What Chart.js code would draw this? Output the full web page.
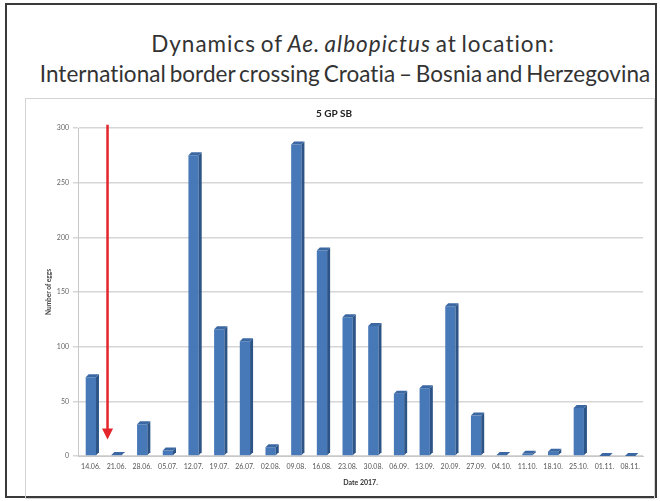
<!DOCTYPE html>
<html>
<head>
<meta charset="utf-8">
<title>Dynamics of Ae. albopictus</title>
<script src="https://cdn.jsdelivr.net/npm/chart.js@4.4.1/dist/chart.umd.min.js"></script>
<style>
  body { margin: 0; background: #fff; width: 660px; height: 501px; position: relative; overflow: hidden; font-family: Lato, "Open Sans", sans-serif; }
  #frame { position: absolute; left: 5px; top: 3px; width: 652px; height: 495px; border: 2px solid #3a3a3a; box-sizing: border-box; }
  #title { position: absolute; left: 25px; width: 640px; top: 29px; text-align: center; font-size: 22.5px; line-height: 30px; color: #333; word-spacing: -2px; }
  #title .l1 { letter-spacing: 1px; padding-left: 16px; }
  #title .l2 { letter-spacing: 0.05px; }
  #inner { position: absolute; left: 25px; top: 98px; width: 630px; height: 401px; border: 1px solid #d4d4d4; box-sizing: border-box; }
  #wrap { position: absolute; left: 25px; top: 98px; width: 630px; height: 401px; }
</style>
</head>
<body>
<div id="frame"></div>
<div id="title"><div class="l1">Dynamics of <i>Ae. albopictus</i> at location:</div><div class="l2">International border crossing Croatia – Bosnia and Herzegovina</div></div>
<div id="inner"></div>
<div id="wrap"><canvas id="eggChart" width="630" height="401"></canvas></div>
<script>
// sampling dates (2017) and egg counts per ovitrap check
const dates = ['14.06.', '21.06.', '28.06.', '05.07.', '12.07.', '19.07.', '26.07.', '02.08.',
  '09.08.', '16.08.', '23.08.', '30.08.', '06.09.', '13.09.', '20.09.', '27.09.',
  '04.10.', '11.10.', '18.10.', '25.10.', '01.11.', '08.11.'];
const eggs = [72, 1, 29, 5, 275, 116, 105, 8, 285, 188, 127, 119, 57, 62, 137, 37, 1, 2, 4, 44, 0, 0];
const yMax = 300;
const yStep = 50;

// red arrow marking the start of the control measure (between 14.06. and 21.06.)
const arrowAt = 0.65;
const arrowFrom = 303;
const arrowTo = 15;

// fake 3D: dark side face and top face on each bar
const depth = 3;
const bar3d = {
  id: 'bar3d',
  afterDatasetsDraw(chart) {
    const ctx = chart.ctx;
    chart.getDatasetMeta(0).data.forEach(bar => {
      const half = bar.width / 2;
      const l = bar.x - half, r = bar.x + half;
      ctx.save();
      ctx.fillStyle = '#2c5486';
      ctx.beginPath();
      ctx.moveTo(r, bar.y);
      ctx.lineTo(r + depth, bar.y - depth);
      ctx.lineTo(r + depth, bar.base - depth);
      ctx.lineTo(r, bar.base);
      ctx.closePath();
      ctx.fill();
      ctx.fillStyle = '#3b67a2';
      ctx.beginPath();
      ctx.moveTo(l, bar.y);
      ctx.lineTo(l + depth, bar.y - depth);
      ctx.lineTo(r + depth, bar.y - depth);
      ctx.lineTo(r, bar.y);
      ctx.closePath();
      ctx.fill();
      ctx.restore();
    });
  }
};

const redArrow = {
  id: 'redArrow',
  afterDatasetsDraw(chart) {
    const ctx = chart.ctx;
    const x = chart.scales.x.getPixelForValue(arrowAt);
    const y0 = chart.scales.y.getPixelForValue(arrowFrom);
    const y1 = chart.scales.y.getPixelForValue(arrowTo);
    ctx.save();
    ctx.strokeStyle = '#e4252b';
    ctx.fillStyle = '#e4252b';
    ctx.lineWidth = 2.5;
    ctx.beginPath();
    ctx.moveTo(x, y0);
    ctx.lineTo(x, y1 - 8);
    ctx.stroke();
    ctx.beginPath();
    ctx.moveTo(x - 5.5, y1 - 11);
    ctx.lineTo(x + 5.5, y1 - 11);
    ctx.lineTo(x, y1);
    ctx.closePath();
    ctx.fill();
    ctx.restore();
  }
};

const ctx = document.getElementById('eggChart').getContext('2d');
new Chart(ctx, {
  type: 'bar',
  data: {
    labels: dates,
    datasets: [{
      data: eggs,
      backgroundColor: '#4778b8',
      borderWidth: 0,
      categoryPercentage: 1,
      barPercentage: 0.4
    }]
  },
  options: {
    responsive: false,
    animation: false,
    layout: { padding: { right: 12 } },
    plugins: {
      legend: { display: false },
      tooltip: { enabled: false },
      title: {
        display: true,
        text: '5 GP SB',
        color: '#222',
        font: { family: 'Lato', size: 10, weight: 'bold' },
        padding: { top: 10, bottom: 8 }
      }
    },
    scales: {
      x: {
        grid: { display: false, drawTicks: false },
        border: { display: true, color: '#c8c8c8', width: 1 },
        ticks: {
          color: '#555', font: { family: 'Lato', size: 7 },
          padding: 7, maxRotation: 0, autoSkip: false
        },
        title: {
          display: true, text: 'Date 2017.', color: '#333',
          font: { family: 'Lato', size: 7, weight: 'bold' },
          padding: { top: 0, bottom: 12 }
        },
        afterFit(scale) { scale.height = 43; }
      },
      y: {
        min: 0,
        max: yMax,
        ticks: { stepSize: yStep, color: '#666', font: { family: 'Lato', size: 7 }, padding: 4 },
        grid: { color: '#d6d6d6', lineWidth: 1.5, tickLength: 5 },
        border: { display: true, color: '#c8c8c8', width: 1 },
        title: {
          display: true, text: 'Number of eggs', color: '#444',
          font: { family: 'Lato', size: 6.5, weight: 'bold' },
          padding: { top: 20 }
        },
        afterFit(scale) { scale.width = 53; }
      }
    }
  },
  plugins: [bar3d, redArrow]
});
</script>
</body>
</html>
